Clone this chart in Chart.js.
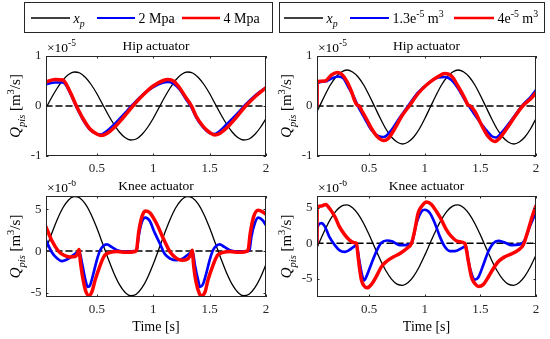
<!DOCTYPE html>
<html>
<head>
<meta charset="utf-8">
<script src="https://cdn.jsdelivr.net/npm/chart.js@4.4.0/dist/chart.umd.min.js"></script>
<style>
  body { margin: 0; background: #fff; }
  #fig { position: relative; width: 550px; height: 339px; overflow: hidden; }
  #fig canvas { position: absolute; }
</style>
</head>
<body>
<div id="fig">
  <canvas id="hipL" width="275" height="180" style="left:0;top:0"></canvas>
  <canvas id="hipR" width="275" height="180" style="left:275px;top:0"></canvas>
  <canvas id="kneeL" width="275" height="159" style="left:0;top:180px"></canvas>
  <canvas id="kneeR" width="275" height="159" style="left:275px;top:180px"></canvas>
</div>
<script>
// ---------- data ----------
// x axis ticks (s)
const xTicks = [0.5, 1, 1.5, 2];
const hipTicks = [-1, 0, 1];
const kneeTicks = [-5, 0, 5];

// reference signal x_p (scaled), left column
const tGridL = [0.05,0.1,0.15,0.2,0.25,0.3,0.35,0.4,0.45,0.5,0.55,0.6,0.65,0.7,0.75,0.8,0.85,0.9,0.95,1,
                1.05,1.1,1.15,1.2,1.25,1.3,1.35,1.4,1.45,1.5,1.55,1.6,1.65,1.7,1.75,1.8,1.85,1.9,1.95,2];
const hipXpL = [-0.04,0.17,0.36,0.52,0.63,0.68,0.66,0.57,0.43,0.25,0.04,-0.17,-0.36,-0.52,-0.63,-0.68,-0.66,-0.57,-0.43,-0.25,
                -0.04,0.17,0.36,0.52,0.63,0.68,0.66,0.57,0.43,0.25,0.04,-0.17,-0.36,-0.52,-0.63,-0.68,-0.66,-0.57,-0.43,-0.25];
const kneeXpL = [0.23,2.08,3.79,5.19,6.13,6.54,6.37,5.62,4.39,2.79,0.97,-0.88,-2.59,-3.99,-4.93,-5.34,-5.17,-4.42,-3.19,-1.59,
                 0.23,2.08,3.79,5.19,6.13,6.54,6.37,5.62,4.39,2.79,0.97,-0.88,-2.59,-3.99,-4.93,-5.34,-5.17,-4.42,-3.19,-1.59];

// reference signal x_p, right column
const tGridR = [0.03,0.05,0.1,0.15,0.2,0.25,0.3,0.35,0.4,0.45,0.5,0.55,0.6,0.65,0.7,0.75,0.8,0.85,0.9,0.95,1,
                1.05,1.1,1.15,1.2,1.25,1.3,1.35,1.4,1.45,1.5,1.55,1.6,1.65,1.7,1.75,1.8,1.85,1.9,1.95,2];
const hipXpR = [-0.11,-0.02,0.21,0.42,0.58,0.68,0.72,0.68,0.58,0.42,0.21,-0.02,-0.25,-0.46,-0.62,-0.72,-0.76,-0.72,-0.62,-0.46,-0.25,
                -0.02,0.21,0.42,0.58,0.68,0.72,0.68,0.58,0.42,0.21,-0.02,-0.25,-0.46,-0.62,-0.72,-0.76,-0.72,-0.62,-0.46,-0.25];
const kneeXpR = [-0.61,0.11,1.85,3.38,4.56,5.27,5.44,5.05,4.14,2.81,1.17,-0.61,-2.35,-3.88,-5.06,-5.77,-5.94,-5.55,-4.64,-3.31,-1.67,
                 0.11,1.85,3.38,4.56,5.27,5.44,5.05,4.14,2.81,1.17,-0.61,-2.35,-3.88,-5.06,-5.77,-5.94,-5.55,-4.64,-3.31,-1.67];

// hip, supply pressure (2 Mpa blue, 4 Mpa red)
const hipLT = [0.05,0.13,0.2,0.26,0.32,0.38,0.44,0.5,0.54,0.59,0.65,0.735,0.82,0.91,1,1.09,1.13,1.18,1.235,1.29,
               1.34,1.38,1.44,1.5,1.544,1.59,1.65,1.735,1.82,1.91,2];
const hipRedL = [0.48,0.53,0.52,0.3,0,-0.26,-0.46,-0.56,-0.59,-0.55,-0.44,-0.23,0,0.22,0.4,0.51,0.53,0.5,0.36,0.17,
                 0,-0.2,-0.4,-0.53,-0.58,-0.55,-0.44,-0.23,0,0.2,0.37];
const hipBlueL = [0.44,0.47,0.47,0.28,-0.02,-0.28,-0.47,-0.56,-0.57,-0.5,-0.38,-0.18,0.03,0.23,0.38,0.47,0.48,0.45,0.33,0.14,
                  -0.03,-0.22,-0.42,-0.54,-0.56,-0.5,-0.37,-0.18,0.03,0.22,0.37];

// hip, accumulator volume (1.3e-5 blue, 4e-5 red)
const hipRedRT = [0.03,0.031,0.1,0.16,0.21,0.25,0.3,0.34,0.37,0.39,0.41,0.43,0.48,0.52,0.58,0.63,0.67,0.73,0.79,0.866,
                  0.94,1.03,1.12,1.18,1.24,1.3,1.36,1.385,1.41,1.45,1.51,1.57,1.63,1.67,1.75,1.81,1.88,1.955,2];
const hipRedR = [0,0.49,0.5,0.62,0.67,0.64,0.49,0.29,0.1,0.02,0,-0.08,-0.28,-0.45,-0.63,-0.69,-0.65,-0.45,-0.21,0.02,
                 0.25,0.45,0.59,0.65,0.6,0.39,0.15,0.03,0,-0.11,-0.38,-0.61,-0.71,-0.65,-0.41,-0.21,0,0.15,0.27];
const hipBlueRT = [0.03,0.031,0.1,0.16,0.22,0.27,0.31,0.36,0.4,0.46,0.52,0.58,0.63,0.7,0.76,0.85,0.94,1.03,1.12,1.18,
                   1.24,1.3,1.36,1.4,1.46,1.54,1.6,1.64,1.7,1.78,1.87,1.955,2];
const hipBlueR = [0,0.45,0.49,0.55,0.59,0.55,0.39,0.19,-0.01,-0.25,-0.48,-0.6,-0.62,-0.48,-0.28,0,0.27,0.45,0.57,0.58,
                  0.52,0.35,0.12,-0.01,-0.21,-0.45,-0.6,-0.63,-0.51,-0.28,-0.01,0.19,0.32];

// knee, supply pressure
const kneeRedLT = [0.05,0.1,0.16,0.21,0.26,0.31,0.33,0.342,0.355,0.38,0.405,0.43,0.456,0.485,0.53,0.57,0.62,0.68,0.76,0.84,
                   0.855,0.87,0.9,0.93,0.97,1.03,1.09,1.15,1.21,1.26,1.31,1.335,1.345,1.36,1.38,1.41,1.43,1.46,1.485,1.53,
                   1.57,1.62,1.68,1.76,1.84,1.86,1.89,1.93,1.97,2];
const kneeRedL = [2.9,1.3,0,-0.5,-0.7,-0.65,-0.3,0.2,-1.3,-3.5,-4.9,-5.35,-4.9,-3.5,-1.7,-0.5,-0.15,-0.05,-0.15,-0.05,
                  0.3,2.1,4.1,4.8,4.6,3.3,1.5,-0.1,-0.9,-1.1,-0.9,-0.3,0.1,-1.9,-3.7,-5.1,-5.35,-4.9,-3.5,-1.7,
                  -0.5,-0.15,-0.05,-0.15,0.05,2.1,4.1,4.9,4.7,4.4];
const kneeBlueLT = [0.05,0.1,0.15,0.19,0.25,0.31,0.345,0.37,0.4,0.42,0.44,0.47,0.5,0.53,0.56,0.59,0.63,0.68,0.76,0.84,
                    0.855,0.87,0.9,0.93,0.97,1.01,1.06,1.1,1.15,1.21,1.26,1.32,1.35,1.37,1.4,1.415,1.44,1.47,1.5,1.53,
                    1.56,1.59,1.63,1.68,1.76,1.84,1.855,1.87,1.9,1.93,1.97,2];
const kneeBlueL = [1.3,-0.1,-0.9,-1.2,-0.9,-0.3,-0.05,-1.5,-3.5,-4.3,-4.1,-2.7,-1.1,0.1,0.65,0.8,0.5,0.1,-0.05,0,
                   0.2,1.7,3.5,4,3.6,2.3,0.9,-0.3,-0.9,-1.1,-0.9,-0.3,-0.05,-1.7,-3.6,-4.3,-4,-2.7,-1.1,0.1,
                   0.65,0.8,0.5,0.1,-0.05,0,0.2,1.7,3.3,4,3.7,3.1];

// knee, accumulator volume
const kneeRedRT = [0.03,0.031,0.07,0.11,0.14,0.19,0.23,0.28,0.32,0.36,0.385,0.4,0.415,0.43,0.45,0.48,0.52,0.57,0.61,0.66,
                   0.72,0.78,0.84,0.88,0.91,0.94,0.97,1.015,1.06,1.105,1.15,1.195,1.24,1.3,1.36,1.375,1.39,1.42,1.45,1.48,
                   1.525,1.57,1.615,1.66,1.72,1.78,1.84,1.885,1.93,1.976,2];
const kneeRedR = [0,5,5.3,5.5,5,3.8,2.4,1.2,0.5,0.1,0,-1.9,-3.8,-5.2,-5.95,-6.3,-5.8,-4.5,-3.3,-2.5,
                  -1.9,-1.4,-0.7,0,1.9,4.3,5.2,5.85,5.5,4.5,3.3,1.9,0.95,0.25,0,-1,-2.4,-4.8,-5.7,-6.1,
                  -5.85,-4.8,-3.6,-2.6,-1.9,-1.5,-0.95,-0.25,1.9,4.3,5.3];
const kneeBlueRT = [0.03,0.031,0.07,0.1,0.14,0.19,0.23,0.28,0.32,0.36,0.385,0.41,0.435,0.455,0.48,0.52,0.57,0.61,0.66,0.71,
                    0.77,0.83,0.88,0.925,0.97,1,1.045,1.09,1.135,1.18,1.225,1.27,1.33,1.37,1.39,1.42,1.45,1.48,1.525,1.57,
                    1.615,1.66,1.72,1.78,1.855,1.9,1.945,1.99,2];
const kneeBlueR = [0,2.1,2.85,2.4,0.95,-0.25,-0.95,-1.2,-0.95,-0.5,-0.25,-2.4,-4.5,-5.25,-4.5,-2.85,-0.95,0.1,0.4,0.25,
                   -0.25,-0.25,0,2.85,4.5,4.75,4.3,2.85,0.95,-0.5,-1.1,-1.1,-0.7,-0.4,-2.4,-4.3,-5.15,-4.85,-3.1,-1.2,
                   0,0.35,0.1,-0.25,-0.15,0.5,2.4,4.05,4.5];

// ---------- text ----------
const SERIF = '"Liberation Serif", "Times New Roman", serif';
const AXIS = '#262626';
const xpLabel = [{ t: 'x', it: 1 }, { t: 'p', it: 1, sub: 1 }];
const pressLabels = [[{ t: '2 Mpa' }], [{ t: '4 Mpa' }]];
const volLabels = [
  [{ t: '1.3e' }, { t: '-5', sup: 1 }, { t: ' m' }, { t: '3', sup: 1 }],
  [{ t: '4e' }, { t: '-5', sup: 1 }, { t: ' m' }, { t: '3', sup: 1 }]
];
const yTitle = [{ t: 'Q', it: 1 }, { t: 'pis', it: 1, sub: 1 }, { t: ' [m' }, { t: '3', sup: 1 }, { t: '/s]' }];

// rich text helper: italic / sub / sup pieces drawn one after another
function richWidth(ctx, parts, size) {
  let w = 0;
  parts.forEach(p => {
    const s = (p.sub || p.sup) ? size * 0.7 : size;
    ctx.font = (p.it ? 'italic ' : '') + s + 'px ' + SERIF;
    w += ctx.measureText(p.t).width;
  });
  return w;
}
function richText(ctx, parts, x, y, size) {
  ctx.textAlign = 'left';
  ctx.textBaseline = 'alphabetic';
  parts.forEach(p => {
    const s = (p.sub || p.sup) ? size * 0.7 : size;
    ctx.font = (p.it ? 'italic ' : '') + s + 'px ' + SERIF;
    const dy = p.sub ? size * 0.3 : (p.sup ? -size * 0.42 : 0);
    ctx.fillText(p.t, x, y + dy);
    x += ctx.measureText(p.t).width;
  });
  return x;
}

// MATLAB-like box, inward ticks, title, exponent, axis titles, legend
const matlabAxes = {
  id: 'matlab',
  afterDraw(chart, args, o) {
    const ctx = chart.ctx, a = chart.chartArea;
    const xs = chart.scales.x, ys = chart.scales.y;
    ctx.save();
    ctx.strokeStyle = AXIS;
    ctx.lineWidth = 1;
    ctx.beginPath();
    xs.ticks.forEach(t => {
      const px = Math.round(xs.getPixelForValue(t.value)) + 0.5;
      ctx.moveTo(px, a.bottom); ctx.lineTo(px, a.bottom - 2.5);
      ctx.moveTo(px, a.top); ctx.lineTo(px, a.top + 2.5);
    });
    ys.ticks.forEach(t => {
      const py = Math.round(ys.getPixelForValue(t.value)) + 0.5;
      ctx.moveTo(a.left, py); ctx.lineTo(a.left + 2.5, py);
      ctx.moveTo(a.right, py); ctx.lineTo(a.right - 2.5, py);
    });
    ctx.stroke();
    ctx.strokeRect(Math.round(a.left) + 0.5, Math.round(a.top) + 0.5,
                   Math.round(a.right - a.left) - 1, Math.round(a.bottom - a.top) - 1);

    ctx.fillStyle = '#000';
    ctx.font = '13.5px ' + SERIF;
    ctx.textAlign = 'center';
    ctx.textBaseline = 'alphabetic';
    ctx.fillText(o.title, (a.left + a.right) / 2, a.top - 6);

    richText(ctx, [{ t: '\u00d710' }, { t: o.exponent, sup: 1 }], a.left + 1, a.top - 4, 13.5);

    // rotated y title
    const w = richWidth(ctx, yTitle, 15);
    ctx.save();
    ctx.translate(a.left - 26, (a.top + a.bottom) / 2);
    ctx.rotate(-Math.PI / 2);
    richText(ctx, yTitle, -w / 2, 0, 15);
    ctx.restore();

    if (o.xTitle) {
      ctx.font = '14px ' + SERIF;
      ctx.textAlign = 'center';
      ctx.fillText(o.xTitle, (a.left + a.right) / 2, a.bottom + 34);
    }

    if (o.legend) {
      const lg = o.legend;
      ctx.fillStyle = '#fff';
      ctx.fillRect(lg.box[0], lg.box[1], lg.box[2], lg.box[3]);
      ctx.strokeStyle = AXIS;
      ctx.lineWidth = 1;
      ctx.strokeRect(lg.box[0] + 0.5, lg.box[1] + 0.5, lg.box[2], lg.box[3]);
      lg.items.forEach(it => {
        const d = chart.data.datasets[it.ds];
        ctx.strokeStyle = d.borderColor;
        ctx.lineWidth = d.legendWidth;
        ctx.beginPath();
        ctx.moveTo(it.x0, lg.lineY); ctx.lineTo(it.x1, lg.lineY);
        ctx.stroke();
        ctx.fillStyle = '#000';
        richText(ctx, d.labelParts, it.x1 + 3.5, lg.textY, 14);
      });
    }
    ctx.restore();
  }
};

const pts = (t, v) => t.map((x, i) => ({ x: x, y: v[i] }));

function build(c) {
  new Chart(document.getElementById(c.id), {
    type: 'line',
    data: {
      datasets: [
        { label: 'red', labelParts: c.labels[1], data: pts(c.red[0], c.red[1]),
          borderColor: '#ff0000', borderWidth: 3.5, legendWidth: 2.5, order: 0 },
        { label: 'blue', labelParts: c.labels[0], data: pts(c.blue[0], c.blue[1]),
          borderColor: '#0000ff', borderWidth: 2.7, legendWidth: 2, order: 1 },
        { label: 'zero', data: pts([c.xMin, 2], [0, 0]),
          borderColor: '#000', borderWidth: 1.5, borderDash: [6, 4], order: 2 },
        { label: 'x_p', labelParts: xpLabel, data: pts(c.xp[0], c.xp[1]),
          borderColor: '#000', borderWidth: 1.3, legendWidth: 1.5, order: 3 }
      ]
    },
    options: {
      responsive: false,
      animation: false,
      layout: { padding: { top: c.padTop, right: c.padRight, left: 0, bottom: 0 } },
      elements: {
        point: { radius: 0 },
        line: { cubicInterpolationMode: 'monotone', borderJoinStyle: 'round', borderCapStyle: 'round' }
      },
      plugins: {
        legend: { display: false },
        tooltip: { enabled: false },
        matlab: { title: c.title, exponent: c.exponent, xTitle: c.xTitle, legend: c.legend }
      },
      scales: {
        x: {
          type: 'linear', min: c.xMin, max: 2,
          grid: { display: false, drawTicks: false }, border: { display: false },
          ticks: { color: AXIS, font: { family: SERIF, size: 13 }, padding: 4.5, maxRotation: 0,
                   autoSkip: false, callback: v => String(v) },
          afterBuildTicks: s => { s.ticks = xTicks.map(v => ({ value: v })); },
          afterFit: s => { s.height = c.xh; }
        },
        y: {
          min: c.yMin, max: c.yMax,
          grid: { display: false, drawTicks: false }, border: { display: false },
          ticks: { color: AXIS, font: { family: SERIF, size: 13 }, padding: 4.5,
                   autoSkip: false, callback: v => String(v) },
          afterBuildTicks: s => { s.ticks = c.yTicks.map(v => ({ value: v })); },
          afterFit: s => { s.width = c.yw; }
        }
      }
    },
    plugins: [matlabAxes]
  });
}

build({ id: 'hipL', title: 'Hip actuator', exponent: '-5', labels: pressLabels,
  xMin: 0.05, yMin: -1, yMax: 1, yTicks: hipTicks,
  xp: [tGridL, hipXpL], blue: [hipLT, hipBlueL], red: [hipLT, hipRedL],
  padTop: 56, padRight: 9, yw: 46, xh: 24,
  legend: { box: [24, 2, 248, 30], lineY: 18, textY: 22.5,
            items: [{ ds: 3, x0: 31, x1: 70 }, { ds: 1, x0: 97, x1: 135 }, { ds: 0, x0: 182, x1: 220 }] } });

build({ id: 'hipR', title: 'Hip actuator', exponent: '-5', labels: volLabels,
  xMin: 0.03, yMin: -1, yMax: 1, yTicks: hipTicks,
  xp: [tGridR, hipXpR], blue: [hipBlueRT, hipBlueR], red: [hipRedRT, hipRedR],
  padTop: 56, padRight: 14, yw: 42, xh: 24,
  legend: { box: [4, 2, 265, 30], lineY: 18, textY: 22.5,
            items: [{ ds: 3, x0: 9, x1: 48 }, { ds: 1, x0: 75, x1: 114 }, { ds: 0, x0: 179, x1: 219 }] } });

build({ id: 'kneeL', title: 'Knee actuator', exponent: '-6', labels: pressLabels, xTitle: 'Time [s]',
  xMin: 0.05, yMin: -5.5, yMax: 6.6, yTicks: kneeTicks,
  xp: [tGridL, kneeXpL], blue: [kneeBlueLT, kneeBlueL], red: [kneeRedLT, kneeRedL],
  padTop: 16, padRight: 9, yw: 46, xh: 42 });

build({ id: 'kneeR', title: 'Knee actuator', exponent: '-6', labels: volLabels, xTitle: 'Time [s]',
  xMin: 0.03, yMin: -7.6, yMax: 6.7, yTicks: kneeTicks,
  xp: [tGridR, kneeXpR], blue: [kneeBlueRT, kneeBlueR], red: [kneeRedRT, kneeRedR],
  padTop: 16, padRight: 14, yw: 42, xh: 42 });
</script>
</body>
</html>
